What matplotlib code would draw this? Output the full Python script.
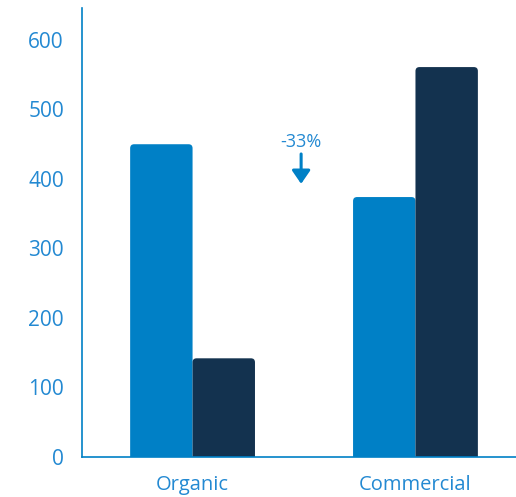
import matplotlib.pyplot as plt
from matplotlib.patches import FancyBboxPatch

# data
categories = ['Organic', 'Commercial']
series_a = [450, 374]
series_b = [142, 561]
change_label = '-33%'

LIGHT = '#0080c6'
DARK = '#13324f'
TEXT = '#2389d2'

plt.rcParams['font.family'] = ['Open Sans', 'DejaVu Sans']

fig = plt.figure(figsize=(5.16, 4.97), dpi=100)
ax = fig.add_axes([82 / 516, 40 / 497, 1 - 82 / 516, 449 / 497])

width = 0.28
xs = range(len(categories))
ax.set_xlim(-0.496, 1.451)
ax.set_ylim(0, 646)

# convert a few pixels to data units for the rounded corners
px_x = (1.451 + 0.496) / 434
px_y = 646 / 449
r = 4

for x, a, b in zip(xs, series_a, series_b):
    for left, h, c in [(x - width, a, LIGHT), (x, b, DARK)]:
        p = FancyBboxPatch((left, -20), width, h + 20,
                           boxstyle='round,pad=0,rounding_size=%f' % (r * px_x),
                           mutation_aspect=px_y / px_x,
                           fc=c, ec='none', clip_on=True)
        ax.add_patch(p)

# change annotation
ax.text(0.487, 453, change_label, ha='center', va='center',
        fontsize=13, color=TEXT)
ax.annotate('', xy=(0.487, 393), xytext=(0.487, 436),
            arrowprops=dict(arrowstyle='-|>,head_width=0.55,head_length=0.8',
                            color=LIGHT, lw=2.2, shrinkA=0, shrinkB=0))

ax.set_xticks(list(xs))
ax.set_xticklabels(categories)
ax.set_yticks(range(0, 700, 100))
ax.tick_params(length=0, colors=TEXT, labelsize=15)
ax.tick_params(axis='y', pad=13)
ax.tick_params(axis='x', pad=13, labelsize=14.5)

for s in ['top', 'right']:
    ax.spines[s].set_visible(False)
for s in ['left', 'bottom']:
    ax.spines[s].set_color(LIGHT)
    ax.spines[s].set_linewidth(1.2)

fig.savefig('out.png', dpi=100)
